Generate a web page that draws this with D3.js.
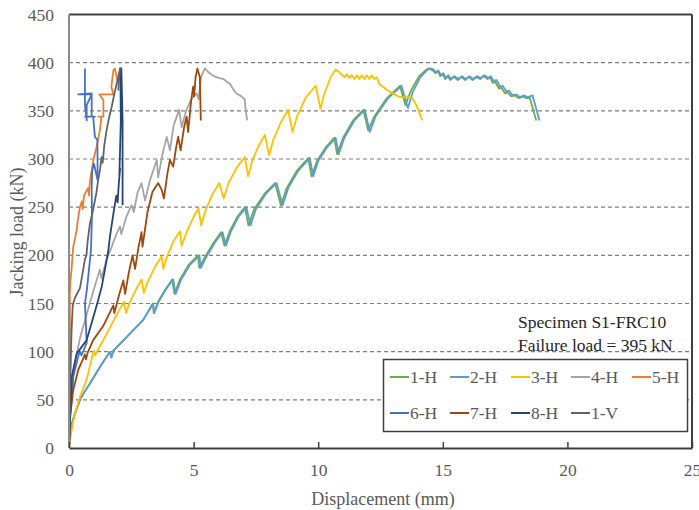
<!DOCTYPE html>
<html>
<head>
<meta charset="utf-8">
<script src="https://cdn.jsdelivr.net/npm/d3@7"></script>
<style>
  body { margin: 0; background: #fff; }
  svg { display: block; font-family: "Liberation Serif", "Times New Roman", serif; }
</style>
</head>
<body>
<svg id="chart" width="699" height="510"></svg>
<script>
// displacement (mm), jacking load (kN)
let h1 = [[0,0],[0.02,8],[0.04,15],[0.12,26],[0.24,36],[0.44,50],[0.64,59],[0.84,67],[1.24,84],[1.64,100],[1.7,94],[1.78,101],[2.31,115],[2.98,133],[3.36,150],[3.4,140],[3.58,152],[3.88,165],[4.14,175],[4.23,160],[4.45,175],[4.8,190],[5.17,200],[5.23,187],[5.45,198],[5.8,213],[6.1,224],[6.24,210],[6.45,225],[6.75,240],[7.06,250],[7.2,231],[7.43,248],[7.85,264],[8.27,275],[8.5,252],[8.74,270],[9.15,288],[9.6,301],[9.73,282],[9.95,298],[10.3,312],[10.64,322],[10.76,305],[11.0,322],[11.4,340],[11.81,351],[12.0,330],[12.25,344],[12.75,363],[13.28,376],[13.5,356],[13.72,371],[14.05,386],[14.35,393],[14.45,394],[14.6,392],[14.7,389],[14.8,391],[14.9,386],[15.0,388],[15.1,383],[15.2,386],[15.3,382],[15.45,385],[15.6,382],[15.75,385],[15.9,382],[16.05,385],[16.2,382],[16.35,385],[16.5,383],[16.65,386],[16.8,383],[16.9,385],[17.0,379],[17.1,380],[17.25,373],[17.35,374],[17.5,368],[17.6,369],[17.75,365],[17.9,366],[18.05,363],[18.2,365],[18.35,363],[18.48,364],[18.75,340]];
let h2 = [[0,0],[0.02,8],[0.04,15],[0.12,26],[0.24,36],[0.44,50],[0.64,59],[0.84,67],[1.24,84],[1.64,100],[1.7,94],[1.78,101],[2.31,115],[2.98,133],[3.38,150],[3.42,140],[3.6,152],[3.9,165],[4.18,175],[4.28,160],[4.5,175],[4.85,190],[5.23,200],[5.29,187],[5.5,198],[5.85,213],[6.16,224],[6.3,210],[6.5,225],[6.8,240],[7.12,250],[7.28,231],[7.5,248],[7.9,264],[8.33,275],[8.57,252],[8.8,270],[9.2,288],[9.66,301],[9.8,282],[10.0,298],[10.35,312],[10.7,322],[10.82,305],[11.05,322],[11.45,340],[11.87,351],[12.07,328],[12.3,344],[12.8,363],[13.34,376],[13.6,353],[13.8,370],[14.1,385],[14.4,393],[14.5,394],[14.62,393],[14.72,390],[14.82,392],[14.92,387],[15.02,389],[15.12,384],[15.22,387],[15.32,383],[15.47,386],[15.62,383],[15.77,386],[15.92,383],[16.07,386],[16.22,383],[16.37,386],[16.52,384],[16.67,387],[16.82,384],[16.92,386],[17.05,381],[17.15,382],[17.3,375],[17.4,376],[17.55,370],[17.65,371],[17.8,366],[17.95,367],[18.1,364],[18.25,366],[18.4,364],[18.6,366],[18.88,340]];
let h3 = [[0,0],[0.04,8],[0.11,19],[0.24,36],[0.44,53],[0.71,71],[0.95,97],[1.0,101],[1.05,96],[1.12,100],[1.5,118],[1.85,135],[2.2,152],[2.29,140],[2.45,152],[2.7,165],[2.91,175],[3.0,161],[3.15,172],[3.45,188],[3.72,199],[3.78,186],[3.95,200],[4.2,215],[4.45,225],[4.52,210],[4.75,226],[5.0,240],[5.2,249],[5.3,231],[5.5,248],[5.75,263],[6.03,275],[6.21,259],[6.4,275],[6.75,292],[7.06,302],[7.19,282],[7.35,298],[7.6,313],[7.86,325],[8.03,304],[8.2,320],[8.5,338],[8.79,351],[8.97,328],[9.15,344],[9.5,364],[9.9,376],[10.09,352],[10.25,368],[10.5,385],[10.7,393],[10.85,390],[11.0,386],[11.07,385],[11.15,388],[11.25,384],[11.35,387],[11.45,383],[11.55,387],[11.65,383],[11.75,387],[11.85,383],[11.95,387],[12.05,383],[12.15,387],[12.25,383],[12.35,385],[12.45,378],[12.6,375],[12.8,371],[13.0,368],[13.2,365],[13.4,364],[13.6,365],[13.74,364],[13.94,356],[14.18,340]];
let h4 = [[0,0],[0.05,40],[0.2,85],[0.45,115],[0.78,145],[1.0,165],[1.24,185],[1.3,176],[1.5,195],[1.7,208],[1.9,222],[2.05,230],[2.1,222],[2.3,240],[2.51,252],[2.6,245],[2.75,265],[2.91,275],[3.05,257],[3.25,278],[3.52,299],[3.58,281],[3.75,305],[3.92,323],[4.05,309],[4.2,335],[4.42,351],[4.52,333],[4.7,350],[4.9,362],[5.12,368],[5.2,362],[5.3,385],[5.45,394],[5.6,390],[5.8,386],[6.05,384],[6.2,383],[6.35,380],[6.46,378],[6.6,372],[6.72,368],[6.92,365],[7.05,362],[7.1,349],[7.15,340]];
let h5 = [[0,0],[0.01,30],[0.02,60],[0.03,100],[0.04,130],[0.03,160],[0.06,175],[0.1,185],[0.17,209],[0.31,226],[0.35,236],[0.44,250],[0.51,256],[0.55,248],[0.6,262],[0.77,270],[0.8,262],[0.84,277],[0.98,299],[1.11,313],[1.24,330],[1.3,344],[1.18,344],[1.38,344],[1.38,361],[1.22,367],[1.78,367],[1.7,375],[1.78,392],[1.84,394],[1.94,382]];
let h6 = [[0,0],[0.03,30],[0.11,50],[0.17,74],[0.37,95],[0.44,100],[0.5,96],[0.71,109],[0.64,150],[0.72,165],[0.8,185],[0.88,205],[0.92,240],[0.91,270],[0.93,288],[1.0,295],[1.15,278],[1.14,320],[1.04,323],[0.97,344],[0.64,344],[1.04,344],[0.91,344],[0.91,368],[0.37,367],[0.91,367],[0.71,356],[0.71,340],[0.64,356],[0.64,394]];
let h7 = [[0,0],[0.05,35],[0.17,60],[0.37,81],[0.64,97],[0.68,92],[0.75,99],[0.97,112],[1.38,127],[1.78,148],[1.82,140],[2.0,158],[2.18,174],[2.25,160],[2.4,182],[2.55,200],[2.65,186],[2.8,210],[2.91,224],[2.95,209],[3.15,245],[3.35,266],[3.58,275],[3.72,268],[3.81,259],[3.95,285],[4.05,299],[4.18,292],[4.3,312],[4.38,323],[4.48,309],[4.62,333],[4.72,344],[4.78,328],[4.9,360],[4.98,375],[5.02,365],[5.08,385],[5.15,394],[5.25,385],[5.29,340]];
let h8 = [[0,0],[0.11,74],[0.31,98],[0.71,112],[1.11,148],[1.31,167],[1.51,195],[1.58,205],[1.64,219],[1.78,243],[1.9,262],[1.95,255],[2.0,275],[2.05,290],[2.02,282],[2.08,340],[2.06,394],[2.1,394],[2.15,340],[2.15,252]];
let v1 = [[0,0],[0.03,40],[0.06,80],[0.1,120],[0.15,148],[0.24,156],[0.44,166],[0.55,182],[0.64,196],[0.7,200],[0.75,215],[0.84,233],[0.95,245],[1.04,257],[1.1,265],[1.17,278],[1.25,290],[1.31,302],[1.35,296],[1.42,315],[1.51,330],[1.6,342],[1.71,354],[1.8,365],[1.91,378],[2.0,388],[2.05,394],[2.0,380],[1.98,371]];

let seriesNames = ["1-H", "2-H", "3-H", "4-H", "5-H", "6-H", "7-H", "8-H", "1-V"];
let seriesColors = ["#70AD47", "#5B9BD5", "#FFC000", "#A5A5A5", "#ED7D31", "#4472C4", "#9E480E", "#264478", "#636363"];
let seriesData = [h1, h2, h3, h4, h5, h6, h7, h8, v1];

let xTicks = [0, 5, 10, 15, 20, 25];
let yTicks = [0, 50, 100, 150, 200, 250, 300, 350, 400, 450];

let svg = d3.select("#chart");
let plotLeft = 69, plotRight = 692, plotTop = 14.5, plotBottom = 448;

let x = d3.scaleLinear().domain([0, 25]).range([plotLeft, plotRight]);
let y = d3.scaleLinear().domain([0, 450]).range([plotBottom, plotTop]);

// grid
svg.append("g")
  .selectAll("line")
  .data(yTicks.filter((t) => t > 0 && t < 450))
  .enter()
  .append("line")
  .attr("x1", plotLeft).attr("x2", plotRight)
  .attr("y1", (d) => y(d)).attr("y2", (d) => y(d))
  .attr("stroke", "#7f7f7f")
  .attr("stroke-width", 1.2)
  .attr("stroke-dasharray", "4,3");

svg.append("clipPath").attr("id", "clip")
  .append("rect").attr("x", plotLeft).attr("y", plotTop)
  .attr("width", plotRight - plotLeft).attr("height", plotBottom - plotTop);

let line = d3.line().x((d) => x(d[0])).y((d) => y(d[1]));

svg.append("g").attr("clip-path", "url(#clip)")
  .selectAll("path")
  .data(seriesData)
  .enter()
  .append("path")
  .attr("d", line)
  .attr("fill", "none")
  .attr("stroke", (d, i) => seriesColors[i])
  .attr("stroke-width", 1.8)
  .attr("stroke-linejoin", "round");

// frame
svg.append("line").attr("x1", plotLeft).attr("x2", plotRight).attr("y1", plotTop).attr("y2", plotTop)
  .attr("stroke", "#404040").attr("stroke-width", 2);
svg.append("line").attr("x1", plotRight).attr("x2", plotRight).attr("y1", plotTop).attr("y2", plotBottom)
  .attr("stroke", "#404040").attr("stroke-width", 2);
svg.append("line").attr("x1", plotLeft).attr("x2", plotLeft).attr("y1", plotTop).attr("y2", plotBottom)
  .attr("stroke", "#8c8c8c").attr("stroke-width", 2);

// axes
let xAxis = svg.append("g")
  .attr("transform", "translate(0," + plotBottom + ")")
  .call(d3.axisBottom(x).tickValues(xTicks).tickSizeInner(-6).tickSizeOuter(0).tickPadding(16));
xAxis.select(".domain").attr("stroke", "#404040").attr("stroke-width", 2);
xAxis.selectAll(".tick line").attr("stroke", "#404040").attr("stroke-width", 1.5);
xAxis.selectAll("text").attr("fill", "#595959").style("font-size", "17.5px")
  .style("font-family", "Liberation Serif");

let yAxis = svg.append("g")
  .attr("transform", "translate(" + plotLeft + ",0)")
  .call(d3.axisLeft(y).tickValues(yTicks).tickSize(0).tickPadding(15));
yAxis.select(".domain").remove();
yAxis.selectAll("text").attr("fill", "#595959").style("font-size", "17.5px")
  .style("font-family", "Liberation Serif");

// axis titles
svg.append("text")
  .attr("x", 383).attr("y", 505)
  .attr("text-anchor", "middle")
  .attr("fill", "#595959")
  .style("font-size", "18px")
  .text("Displacement (mm)");

svg.append("text")
  .attr("transform", "translate(23,232) rotate(-90)")
  .attr("text-anchor", "middle")
  .attr("fill", "#595959")
  .style("font-size", "18px")
  .text("Jacking load (kN)");

// annotation
svg.append("text").attr("x", 518).attr("y", 328).attr("fill", "#262626")
  .style("font-size", "17.5px").text("Specimen S1-FRC10");
svg.append("text").attr("x", 518).attr("y", 351).attr("fill", "#262626")
  .style("font-size", "17.5px").text("Failure load = 395 kN");

// legend
let legend = svg.append("g");
legend.append("rect")
  .attr("x", 383.5).attr("y", 359.5).attr("width", 304).attr("height", 72)
  .attr("fill", "#fff").attr("stroke", "#404040").attr("stroke-width", 1.5);

let legendCols = [390, 450, 511, 571, 632];
let legendRows = [377, 413];

let items = legend.selectAll("g.item")
  .data(seriesNames)
  .enter()
  .append("g")
  .attr("class", "item")
  .attr("transform", (d, i) => "translate(" + legendCols[i % 5] + "," + legendRows[Math.floor(i / 5)] + ")");

items.append("line")
  .attr("x1", 0).attr("x2", 19).attr("y1", 0).attr("y2", 0)
  .attr("stroke", (d, i) => seriesColors[i])
  .attr("stroke-width", 2);

items.append("text")
  .attr("x", 20).attr("y", 6)
  .attr("fill", "#595959")
  .style("font-size", "17.5px")
  .text((d) => d);
</script>
</body>
</html>
